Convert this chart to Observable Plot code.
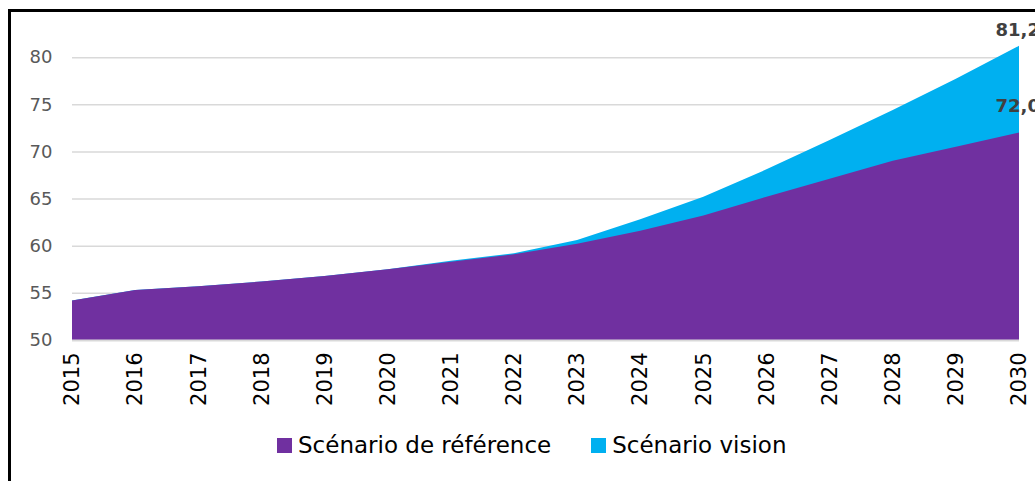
<!DOCTYPE html>
<html>
<head>
<meta charset="utf-8">
<script src="https://cdn.jsdelivr.net/npm/d3@7"></script>
<script src="https://cdn.jsdelivr.net/npm/@observablehq/plot@0.6"></script>
<style>
  html, body { margin: 0; padding: 0; background: #fff; }
  body { width: 1035px; height: 481px; position: relative; overflow: hidden; font-family: "DejaVu Sans", sans-serif; }
  #frame { position: absolute; left: 8px; top: 9px; right: -10px; bottom: -10px; border-left: 3px solid #000; border-top: 3px solid #000; }
  #chart { position: absolute; left: 0; top: 0; }
  #legend { position: absolute; left: 277px; top: 432px; display: flex; align-items: center; font-size: 23px; color: #000; }
  .item { display: flex; align-items: center; margin-right: 40px; }
  .sw { width: 15px; height: 15px; margin-right: 6px; }
</style>
</head>
<body>
<div id="frame"></div>
<div id="chart"></div>
<div id="legend"></div>
<script>
const years = [2015, 2016, 2017, 2018, 2019, 2020, 2021, 2022, 2023, 2024, 2025, 2026, 2027, 2028, 2029, 2030];
const reference = [54.2, 55.3, 55.7, 56.2, 56.8, 57.5, 58.3, 59.1, 60.2, 61.6, 63.2, 65.2, 67.1, 69.0, 70.5, 72.0];
const vision = [54.2, 55.3, 55.7, 56.2, 56.8, 57.5, 58.4, 59.2, 60.6, 62.8, 65.2, 68.1, 71.2, 74.4, 77.7, 81.2];
const seriesNames = ["Scénario de référence", "Scénario vision"];
const seriesColors = ["#7030A0", "#00B0F0"];
const yTicks = [50, 55, 60, 65, 70, 75, 80];
const gridTicks = [55, 60, 65, 70, 75, 80];

const refData = years.map((y, i) => ({year: y, value: reference[i]}));
const visData = years.map((y, i) => ({year: y, value: vision[i]}));
const lastRef = refData[refData.length - 1];
const lastVis = visData[visData.length - 1];
const fmt = v => v.toFixed(1).replace(".", ",");

const plot = Plot.plot({
  width: 1035,
  height: 420,
  marginLeft: 72,
  marginRight: 16,
  marginTop: 10,
  marginBottom: 80,
  style: { fontFamily: "DejaVu Sans, sans-serif", background: "transparent", overflow: "hidden" },
  x: { type: "linear", domain: [2015, 2030] },
  y: { domain: [50, 85] },
  marks: [
    Plot.ruleY(gridTicks, { stroke: "#d9d9d9", strokeWidth: 1.5 }),
    Plot.areaY(visData, { x: "year", y1: 50, y2: "value", fill: seriesColors[1] }),
    Plot.areaY(refData, { x: "year", y1: 50, y2: "value", fill: seriesColors[0] }),
    Plot.ruleY([50], { stroke: "#d9d9d9", strokeWidth: 2 }),
    Plot.axisY({ ticks: yTicks, tickSize: 0, tickPadding: 20, fontSize: 18, color: "#595959", label: null }),
    Plot.axisX({ ticks: years, tickFormat: d => String(d), tickSize: 0, tickPadding: 12, tickRotate: -90, fontSize: 21, color: "#000", label: null }),
    Plot.text([lastVis], { x: "year", y: "value", text: d => fmt(d.value), textAnchor: "start", dx: -24, dy: -16, fontSize: 18, fontWeight: "bold", fill: "#404040" }),
    Plot.text([lastRef], { x: "year", y: "value", text: d => fmt(d.value), textAnchor: "start", dx: -24, dy: -27, fontSize: 18, fontWeight: "bold", fill: "#404040" })
  ]
});
document.getElementById("chart").appendChild(plot);

const legend = document.getElementById("legend");
seriesNames.forEach((n, i) => {
  const it = document.createElement("div");
  it.className = "item";
  const sw = document.createElement("span");
  sw.className = "sw";
  sw.style.background = seriesColors[i];
  const t = document.createElement("span");
  t.textContent = n;
  it.appendChild(sw);
  it.appendChild(t);
  legend.appendChild(it);
});
</script>
</body>
</html>
